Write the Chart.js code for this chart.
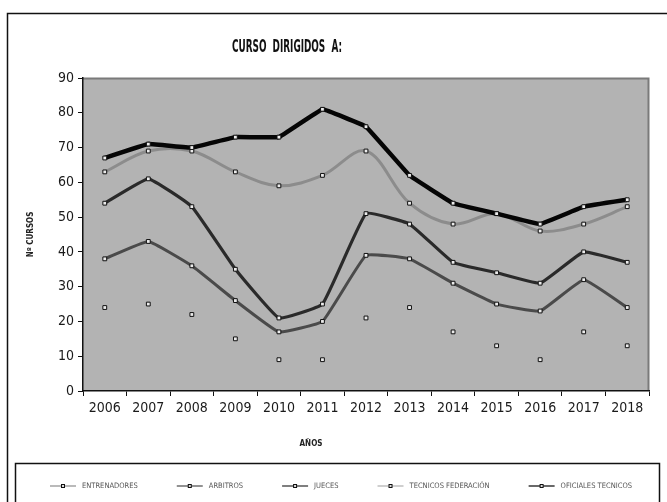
<!DOCTYPE html>
<html>
<head>
<meta charset="utf-8">
<script src="https://cdn.jsdelivr.net/npm/chart.js@4/dist/chart.umd.min.js"></script>
<style>
html,body{margin:0;padding:0;background:#fff;}
#wrap{width:667px;height:502px;position:relative;}
</style>
</head>
<body>
<div id="wrap"><canvas id="c" width="667" height="502"></canvas></div>
<script>
const years = ['2006','2007','2008','2009','2010','2011','2012','2013','2014','2015','2016','2017','2018'];
const entrenadores = [63,69,69,63,59,62,69,54,48,51,46,48,53];
const arbitros = [38,43,36,26,17,20,39,38,31,25,23,32,24];
const jueces = [54,61,53,35,21,25,51,48,37,34,31,40,37];
const tecnicosFederacion = [24,25,22,15,9,9,21,24,17,13,9,17,13];
const oficialesTecnicos = [67,71,70,73,73,81,76,62,54,51,48,53,55];
const seriesNames = ['ENTRENADORES','ARBITROS','JUECES','TECNICOS FEDERACIÓN','OFICIALES TECNICOS'];
const chartTitle = 'CURSO  DIRIGIDOS  A:';
const xTitle = 'AÑOS';
const yTitle = 'Nº CURSOS';

const NARROW = "'Liberation Sans Narrow','DejaVu Sans Condensed','Liberation Sans',sans-serif";

const pt = {pointStyle:'rect', pointRadius:2.7, pointBackgroundColor:'#ececec', pointBorderColor:'#111', pointBorderWidth:1, pointHoverRadius:2.7};

function fitText(ctx, text, cx, cy, w){
  const m = ctx.measureText(text).width;
  const s = Math.min(1, w / m);
  ctx.save();
  ctx.translate(cx, cy);
  ctx.scale(s, 1);
  ctx.fillText(text, 0, 0);
  ctx.restore();
}

const decor = {
  id:'decor',
  beforeDraw(chart){
    const ctx = chart.ctx, a = chart.chartArea;
    ctx.save();
    ctx.fillStyle = '#fff';
    ctx.fillRect(0,0,chart.width,chart.height);
    // outer frame
    ctx.strokeStyle = '#111'; ctx.lineWidth = 1.5;
    ctx.beginPath();
    ctx.moveTo(7.5, 502); ctx.lineTo(7.5, 13.5); ctx.lineTo(667, 13.5);
    ctx.stroke();
    // plot background
    ctx.fillStyle = '#b3b3b3';
    ctx.fillRect(a.left, a.top, a.right - a.left, a.bottom - a.top);
    ctx.strokeStyle = '#7a7a7a'; ctx.lineWidth = 2;
    ctx.beginPath();
    ctx.moveTo(a.left, a.top + 0.5); ctx.lineTo(a.right - 0.5, a.top + 0.5); ctx.lineTo(a.right - 0.5, a.bottom);
    ctx.stroke();
    ctx.restore();
  },
  afterDraw(chart){
    const ctx = chart.ctx;
    ctx.save();
    // chart title
    ctx.fillStyle = '#111';
    ctx.textAlign = 'center'; ctx.textBaseline = 'middle';
    ctx.font = "bold 17px " + NARROW;
    fitText(ctx, chartTitle, 287, 48, 110);
    // x axis title
    ctx.fillStyle = '#222';
    ctx.font = "bold 8px " + NARROW;
    fitText(ctx, xTitle, 311, 444, 24);
    // legend box
    const L = 15.5, R = 659.5, T = 463.5;
    ctx.strokeStyle = '#111'; ctx.lineWidth = 1.5;
    ctx.beginPath();
    ctx.moveTo(L, 502); ctx.lineTo(L, T); ctx.lineTo(R, T); ctx.lineTo(R, 502);
    ctx.stroke();
    ctx.textAlign = 'left';
    ctx.font = "7.5px " + NARROW;
    ctx.textBaseline = 'middle';
    const ds = chart.data.datasets;
    const lineW = 26, gapT = 6;
    const widths = ds.map(d => lineW + gapT + ctx.measureText(d.label).width);
    const total = widths.reduce((s,w)=>s+w,0);
    const start = 50, end = 632;
    const gap = (end - start - total) / (ds.length - 1);
    let x = start; const y = 486;
    ds.forEach((d,i)=>{
      ctx.strokeStyle = d.borderColor; ctx.lineWidth = 1.2;
      ctx.beginPath(); ctx.moveTo(x, y); ctx.lineTo(x + lineW, y); ctx.stroke();
      ctx.fillStyle = '#ddd'; ctx.strokeStyle = '#111'; ctx.lineWidth = 1;
      ctx.fillRect(x + lineW/2 - 1.5, y - 1.5, 3, 3);
      ctx.strokeRect(x + lineW/2 - 1.5, y - 1.5, 3, 3);
      ctx.fillStyle = '#555';
      ctx.fillText(d.label, x + lineW + gapT, y);
      x += widths[i] + gap;
    });
    ctx.restore();
  }
};

new Chart(document.getElementById('c'), {
  type:'line',
  data:{
    labels: years,
    datasets:[
      Object.assign({label:seriesNames[0], data:entrenadores, borderColor:'#8c8c8c', borderWidth:3, tension:0.35, order:3}, pt),
      Object.assign({label:seriesNames[1], data:arbitros, borderColor:'#4a4a4a', borderWidth:3, tension:0.1, order:2}, pt),
      Object.assign({label:seriesNames[2], data:jueces, borderColor:'#2a2a2a', borderWidth:3.2, tension:0.1, order:1}, pt),
      Object.assign({label:seriesNames[3], data:tecnicosFederacion, borderColor:'#b0b0b0', borderWidth:1, showLine:false, order:4}, pt),
      Object.assign({label:seriesNames[4], data:oficialesTecnicos, borderColor:'#050505', borderWidth:4.5, tension:0.05, order:0}, pt)
    ]
  },
  options:{
    responsive:false,
    animation:false,
    events:[],
    layout:{padding:{top:78, left:20, right:18, bottom:50}},
    plugins:{
      legend:{display:false},
      tooltip:{enabled:false},
      title:{display:false}
    },
    scales:{
      x:{
        offset:true,
        grid:{offset:true, drawOnChartArea:false, drawTicks:true, tickLength:5, color:'#111'},
        border:{display:true, color:'#111', width:1.5},
        ticks:{color:'#1a1a1a', font:{family:NARROW, size:14}, padding:4, maxRotation:0, autoSkip:false},
        afterFit(s){ s.height = 61; }
      },
      y:{
        min:0, max:90,
        grid:{drawOnChartArea:false, drawTicks:true, tickLength:5, color:'#111'},
        border:{display:true, color:'#111', width:1.5},
        ticks:{stepSize:10, color:'#1a1a1a', font:{family:NARROW, size:14}, padding:4},
        title:{display:true, text:yTitle, color:'#222', font:{family:NARROW, size:8, weight:'bold'}, padding:{top:6,bottom:0}},
        afterFit(s){ s.width = 63; }
      }
    }
  },
  plugins:[decor]
});
</script>
</body>
</html>
